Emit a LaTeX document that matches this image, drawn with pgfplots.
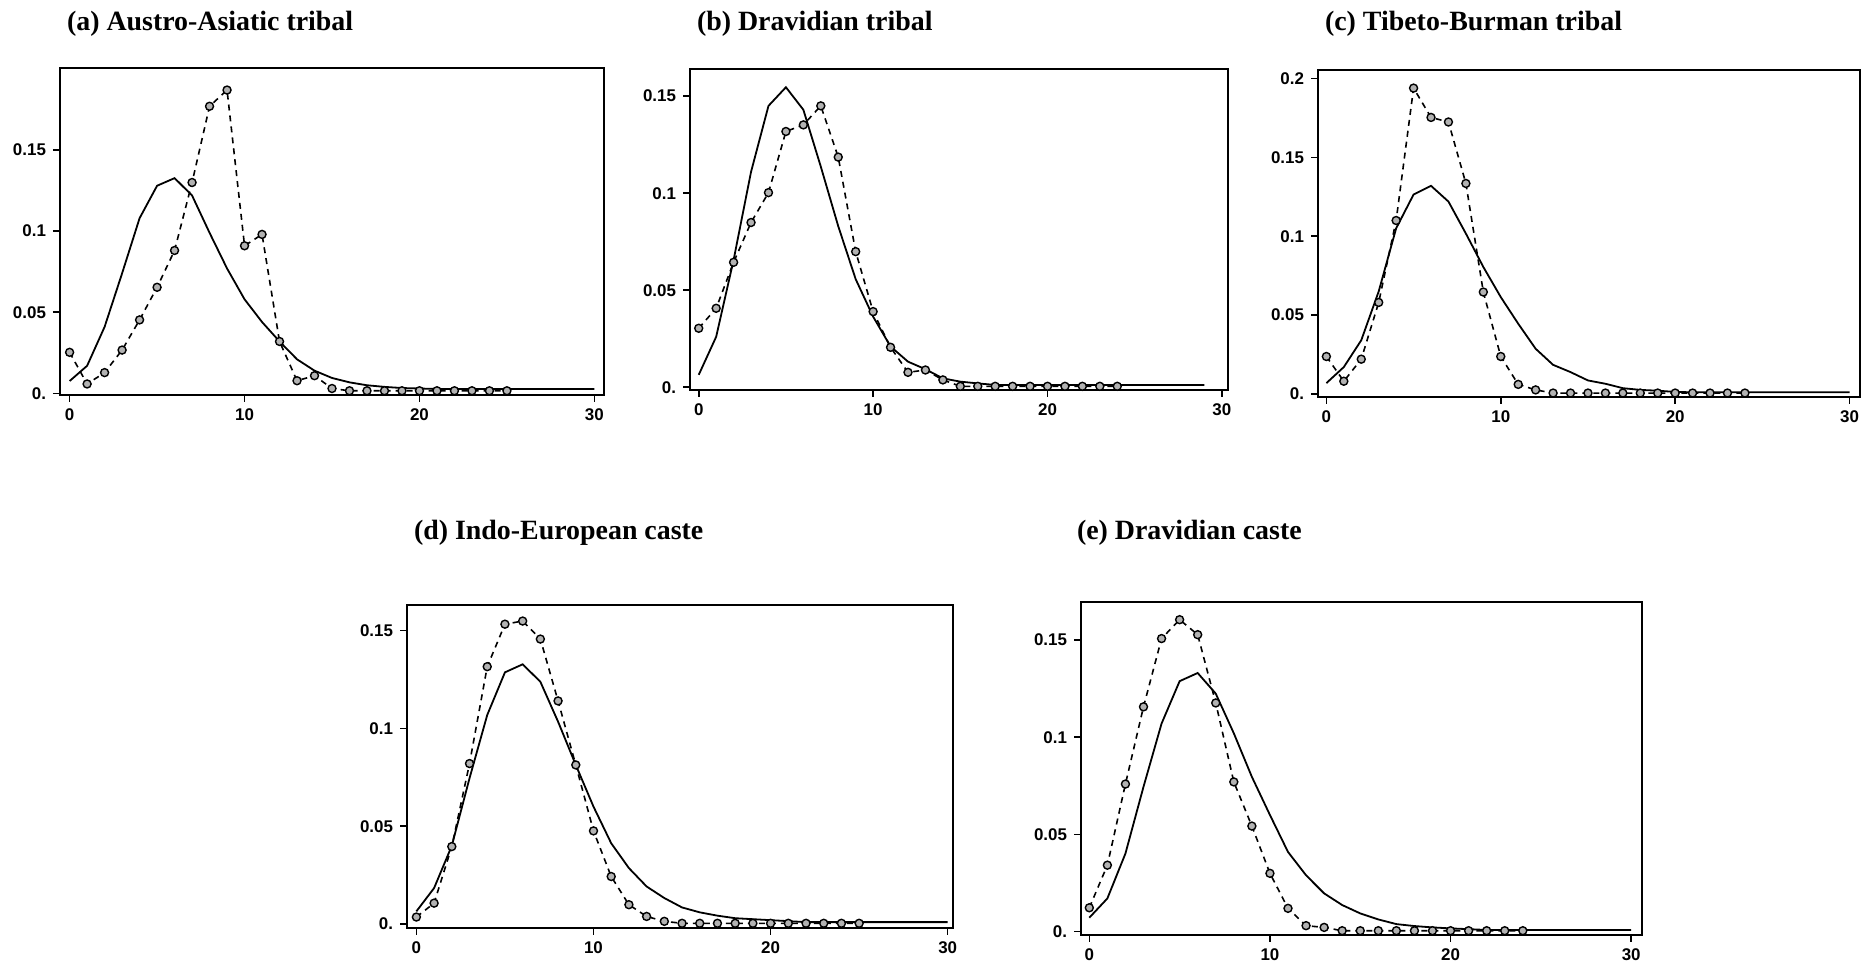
\documentclass[border=0pt]{standalone}
\usepackage{fontspec}
\setmainfont{Liberation Serif}
\setsansfont{Liberation Sans}
\usepackage{pgfplots}
\pgfplotsset{compat=1.18}
\pgfplotsset{
  panel/.style={
    scale only axis, anchor=south west,
    axis line style={line width=1.1bp},
    tick align=outside, xtick pos=bottom, ytick pos=left,
    major tick length=3.5bp,
    tick style={line width=0.8bp, black},
    xtick={0,10,20,30}, xticklabels={0,10,20,30},
    ticklabel style={font=\sffamily\bfseries\fontsize{8.5}{9}\selectfont},
    clip=false,
    title style={anchor=base west, at={(rel axis cs:0,1)},
      font=\rmfamily\bfseries\fontsize{14}{16}\selectfont},
  },
  obs/.style={black, line width=0.8bp, dash pattern=on 3bp off 2.5bp,
    mark=*, mark size=2bp,
    mark options={solid, fill=gray!60, draw=black, line width=0.7bp}},
  fit/.style={black, line width=0.9bp, no markers},
}
\begin{document}
\begin{tikzpicture}
\useasboundingbox (0,0) rectangle (932.5bp,481.5bp);

% (a)
\begin{axis}[panel, at={(30bp,284bp)}, width=272bp, height=163.5bp,
  xmin=-0.55, xmax=30.55, ymin=-0.001, ymax=0.2006,
  ytick={0,0.05,0.1,0.15}, yticklabels={0.,0.05,0.1,0.15},
  title={(a) Austro-Asiatic tribal}, title style={yshift=13bp}]
\addplot[fit] coordinates {(0,0.0076)(1,0.017)(2,0.041)(3,0.074)(4,0.108)(5,0.128)(6,0.1327)(7,0.122)(8,0.099)(9,0.077)(10,0.058)(11,0.044)(12,0.032)(13,0.021)(14,0.014)(15,0.0095)(16,0.0068)(17,0.005)(18,0.004)(19,0.0033)(20,0.003)(21,0.0027)(22,0.0027)(23,0.0027)(24,0.0027)(25,0.0027)(26,0.0027)(27,0.0027)(28,0.0027)(29,0.0027)(30,0.0027)};
\addplot[obs] coordinates {(0,0.0253)(1,0.0058)(2,0.0128)(3,0.0267)(4,0.0453)(5,0.0654)(6,0.0881)(7,0.130)(8,0.177)(9,0.187)(10,0.091)(11,0.098)(12,0.032)(13,0.0078)(14,0.0109)(15,0.003)(16,0.0016)(17,0.0016)(18,0.0016)(19,0.0016)(20,0.0016)(21,0.0016)(22,0.0016)(23,0.0016)(24,0.0016)(25,0.0016)};
\end{axis}

% (b)
\begin{axis}[panel, at={(345bp,286.5bp)}, width=269bp, height=160.5bp,
  xmin=-0.5, xmax=30.35, ymin=-0.0014, ymax=0.164,
  ytick={0,0.05,0.1,0.15}, yticklabels={0.,0.05,0.1,0.15},
  title={(b) Dravidian tribal}, title style={yshift=13.5bp}]
\addplot[fit] coordinates {(0,0.0064)(1,0.026)(2,0.0656)(3,0.111)(4,0.145)(5,0.1546)(6,0.143)(7,0.1137)(8,0.083)(9,0.0557)(10,0.0364)(11,0.021)(12,0.0132)(13,0.0093)(14,0.0046)(15,0.0029)(16,0.002)(17,0.0012)(18,0.0012)(19,0.0012)(20,0.0012)(21,0.0012)(22,0.0012)(23,0.0012)(24,0.0012)(25,0.0012)(26,0.0012)(27,0.0012)(28,0.0012)(29,0.0012)};
\addplot[obs] coordinates {(0,0.0304)(1,0.0407)(2,0.0644)(3,0.0849)(4,0.1003)(5,0.1318)(6,0.1352)(7,0.145)(8,0.1186)(9,0.0699)(10,0.039)(11,0.0206)(12,0.0077)(13,0.0089)(14,0.0038)(15,0.0005)(16,0.0005)(17,0.0005)(18,0.0005)(19,0.0005)(20,0.0005)(21,0.0005)(22,0.0005)(23,0.0005)(24,0.0005)};
\end{axis}

% (c)
\begin{axis}[panel, at={(659bp,283bp)}, width=271bp, height=163.5bp,
  xmin=-0.48, xmax=30.6, ymin=-0.002, ymax=0.2055,
  ytick={0,0.05,0.1,0.15,0.2}, yticklabels={0.,0.05,0.1,0.15,0.2},
  title={(c) Tibeto-Burman tribal}, title style={yshift=14bp, xshift=0bp}]
\addplot[fit] coordinates {(0,0.0068)(1,0.017)(2,0.034)(3,0.065)(4,0.105)(5,0.1265)(6,0.132)(7,0.122)(8,0.1017)(9,0.0805)(10,0.0614)(11,0.0445)(12,0.0286)(13,0.0184)(14,0.0138)(15,0.0085)(16,0.0064)(17,0.0036)(18,0.0025)(19,0.002)(20,0.0012)(21,0.001)(22,0.001)(23,0.001)(24,0.001)(25,0.001)(26,0.001)(27,0.001)(28,0.001)(29,0.001)(30,0.001)};
\addplot[obs] coordinates {(0,0.0237)(1,0.008)(2,0.022)(3,0.058)(4,0.110)(5,0.194)(6,0.1754)(7,0.1725)(8,0.1335)(9,0.0646)(10,0.0237)(11,0.006)(12,0.0025)(13,0.0005)(14,0.0005)(15,0.0005)(16,0.0005)(17,0.0005)(18,0.0005)(19,0.0005)(20,0.0005)(21,0.0005)(22,0.0005)(23,0.0005)(24,0.0005)};
\end{axis}

% (d)
\begin{axis}[panel, at={(203.5bp,17.5bp)}, width=273bp, height=161.5bp,
  xmin=-0.53, xmax=30.3, ymin=-0.002, ymax=0.163,
  ytick={0,0.05,0.1,0.15}, yticklabels={0.,0.05,0.1,0.15},
  title={(d) Indo-European caste}, title style={yshift=27bp}]
\addplot[fit] coordinates {(0,0.0065)(1,0.0184)(2,0.040)(3,0.0745)(4,0.1068)(5,0.1286)(6,0.1327)(7,0.1238)(8,0.1034)(9,0.0813)(10,0.060)(11,0.0413)(12,0.0286)(13,0.0192)(14,0.0133)(15,0.0085)(16,0.006)(17,0.0043)(18,0.003)(19,0.0025)(20,0.002)(21,0.0015)(22,0.001)(23,0.001)(24,0.001)(25,0.001)(26,0.001)(27,0.001)(28,0.001)(29,0.001)(30,0.001)};
\addplot[obs] coordinates {(0,0.0036)(1,0.0107)(2,0.0396)(3,0.082)(4,0.1315)(5,0.1532)(6,0.1548)(7,0.1456)(8,0.114)(9,0.0813)(10,0.0476)(11,0.0243)(12,0.0099)(13,0.0039)(14,0.0014)(15,0.0004)(16,0.0004)(17,0.0004)(18,0.0004)(19,0.0004)(20,0.0004)(21,0.0004)(22,0.0004)(23,0.0004)(24,0.0004)(25,0.0004)};
\end{axis}

% (e)
\begin{axis}[panel, at={(540.5bp,14bp)}, width=280.5bp, height=166.5bp,
  xmin=-0.46, xmax=30.6, ymin=-0.0017, ymax=0.1695,
  ytick={0,0.05,0.1,0.15}, yticklabels={0.,0.05,0.1,0.15},
  title={(e) Dravidian caste}, title style={yshift=25.5bp, xshift=-5.5bp}]
\addplot[fit] coordinates {(0,0.0072)(1,0.0171)(2,0.0402)(3,0.0745)(4,0.107)(5,0.1288)(6,0.133)(7,0.1224)(8,0.102)(9,0.0796)(10,0.060)(11,0.041)(12,0.029)(13,0.0197)(14,0.0137)(15,0.0094)(16,0.0063)(17,0.0039)(18,0.0029)(19,0.0022)(20,0.0017)(21,0.0013)(22,0.0009)(23,0.0009)(24,0.0009)(25,0.0009)(26,0.0009)(27,0.0009)(28,0.0009)(29,0.0009)(30,0.0009)};
\addplot[obs] coordinates {(0,0.0123)(1,0.0342)(2,0.0759)(3,0.1156)(4,0.1507)(5,0.1604)(6,0.1527)(7,0.1176)(8,0.077)(9,0.0543)(10,0.030)(11,0.012)(12,0.0031)(13,0.0022)(14,0.0005)(15,0.0005)(16,0.0005)(17,0.0005)(18,0.0005)(19,0.0005)(20,0.0005)(21,0.0005)(22,0.0005)(23,0.0005)(24,0.0005)};
\end{axis}
\end{tikzpicture}
\end{document}
